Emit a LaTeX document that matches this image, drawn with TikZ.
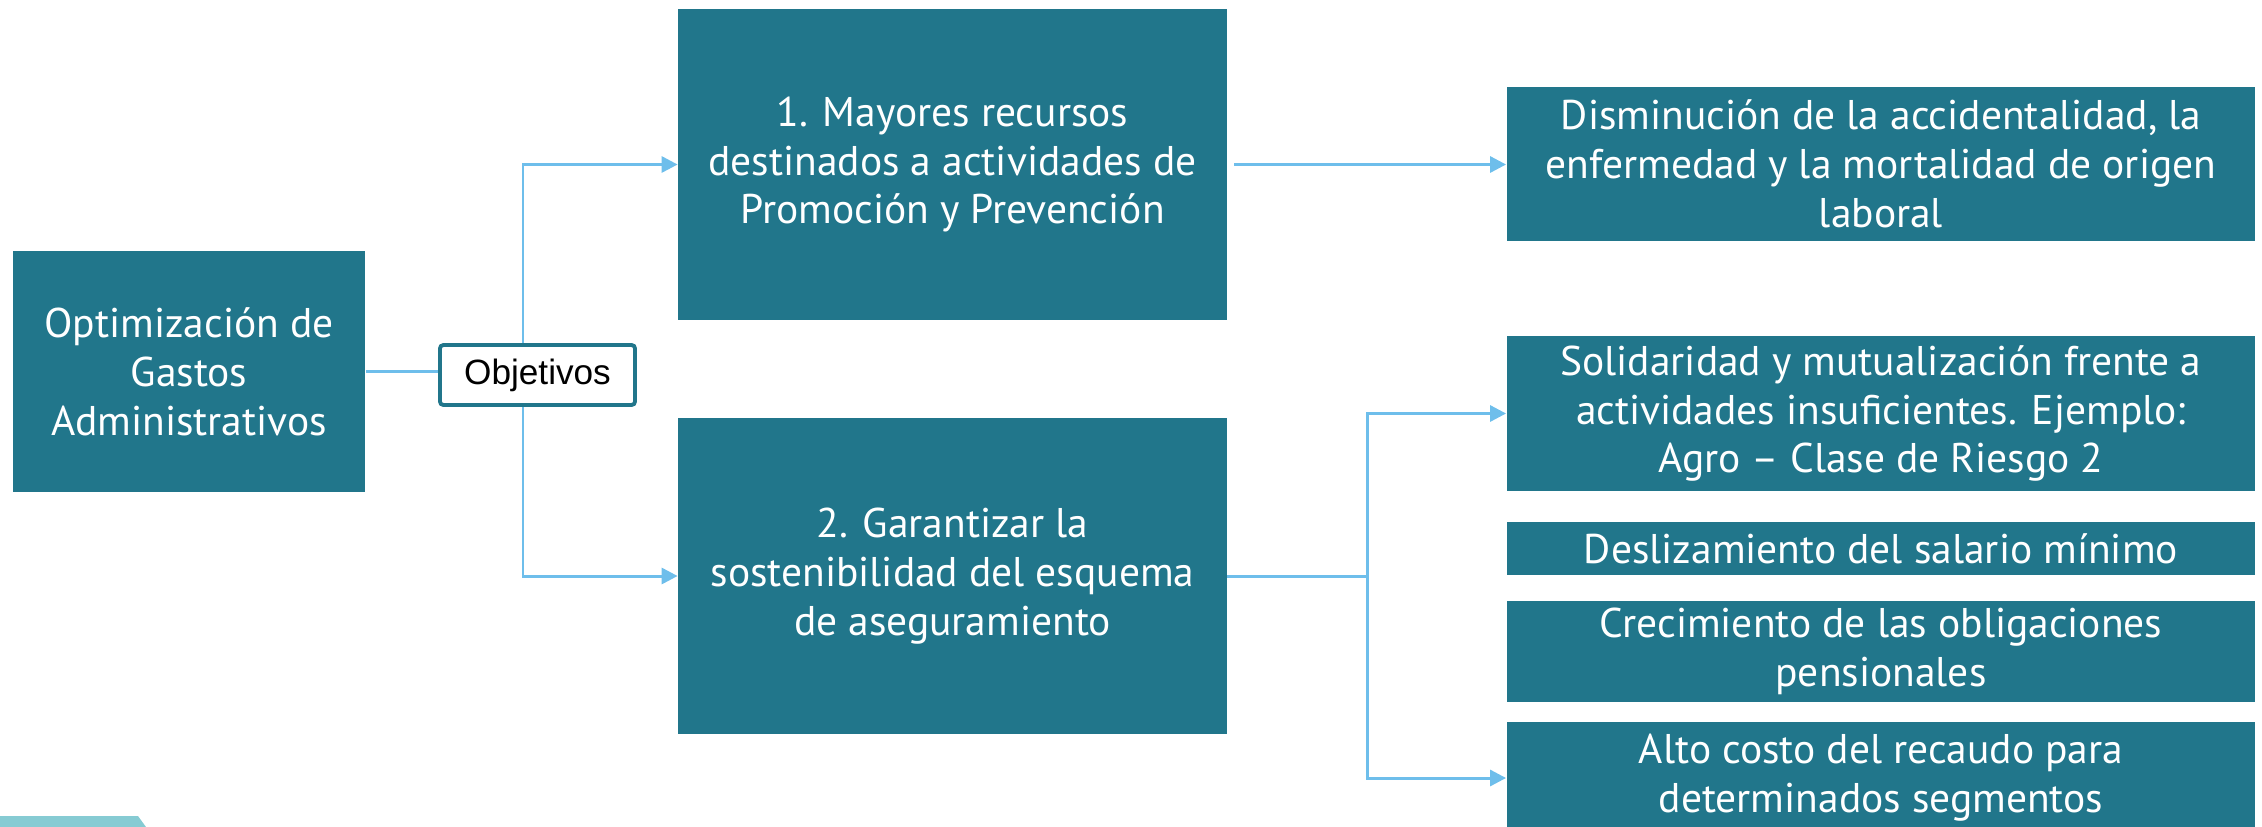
\documentclass[tikz,border=0pt]{standalone}
\usepackage{fontspec}
\setmainfont{PT Sans}
\newfontfamily\arialfont{Liberation Sans}
\usetikzlibrary{arrows.meta}
\definecolor{tealbox}{RGB}{33,118,139}
\definecolor{linkblue}{RGB}{110,190,235}
\definecolor{bandteal}{RGB}{134,203,211}
\begin{document}
\begin{tikzpicture}[x=0.01cm,y=-0.01cm,
  box/.style={fill=tealbox,text=white,align=center,inner sep=0pt,
    font=\fontsize{11.8}{13.9}\selectfont},
  link/.style={draw=linkblue,line width=0.85pt},
  arr/.style={link,-{Triangle[length=0.16cm,width=0.16cm]}}]
\useasboundingbox (0,0) rectangle (2262,827);
%Band
\fill[bandteal] (0,816) -- (138,816) -- (146,827) -- (0,827) -- cycle;
%Origen
\node[box,minimum width=3.52cm,minimum height=2.41cm] (gastos) at (189,371.5)
  {Optimización de\\Gastos\\Administrativos};
%Objetivos
\node[box,minimum width=5.48cm,minimum height=3.11cm] (m1) at (952.5,164.5)
  {1. Mayores recursos\\destinados a actividades de\\Promoción y Prevención};
\node[box,minimum width=5.48cm,minimum height=3.15cm] (m2) at (952.5,576)
  {2. Garantizar la\\sostenibilidad del esquema\\de aseguramiento};
%Resultados
\node[box,minimum width=7.48cm,minimum height=1.54cm] (r1) at (1881,164)
  {Disminución de la accidentalidad, la\\enfermedad y la mortalidad de origen\\laboral};
\node[box,minimum width=7.48cm,minimum height=1.55cm] (r2) at (1881,413.5)
  {Solidaridad y mutualización frente a\\actividades insuficientes. Ejemplo:\\Agro – Clase de Riesgo 2};
\node[box,minimum width=7.48cm,minimum height=0.53cm] (r3) at (1881,548.5)
  {Deslizamiento del salario mínimo};
\node[box,minimum width=7.48cm,minimum height=1.01cm] (r4) at (1881,651.5)
  {Crecimiento de las obligaciones\\pensionales};
\node[box,minimum width=7.48cm,minimum height=1.12cm] (r5) at (1881,778)
  {Alto costo del recaudo para\\determinados segmentos};
%Links
\coordinate (split) at (523,371.5);
\coordinate (fork) at (1367,576);
\draw[link] (gastos.east) -- (split);
\draw[arr] (split) |- (m1.west);
\draw[arr] (split) |- (m2.west);
\draw[arr,shorten <=2pt] (m1.east) -- (m1.east -| r1.west);
\draw[link] (m2.east) -- (fork);
\draw[arr] (fork) |- (r2.west);
\draw[arr] (fork) |- (r5.west);
\node[draw=tealbox,line width=1.1pt,rounded corners=1pt,fill=white,
  minimum width=1.95cm,minimum height=0.6cm,inner sep=0pt,
  font=\arialfont\fontsize{10}{12}\selectfont] (obj) at (537.5,375) {Objetivos};
\end{tikzpicture}
\end{document}
